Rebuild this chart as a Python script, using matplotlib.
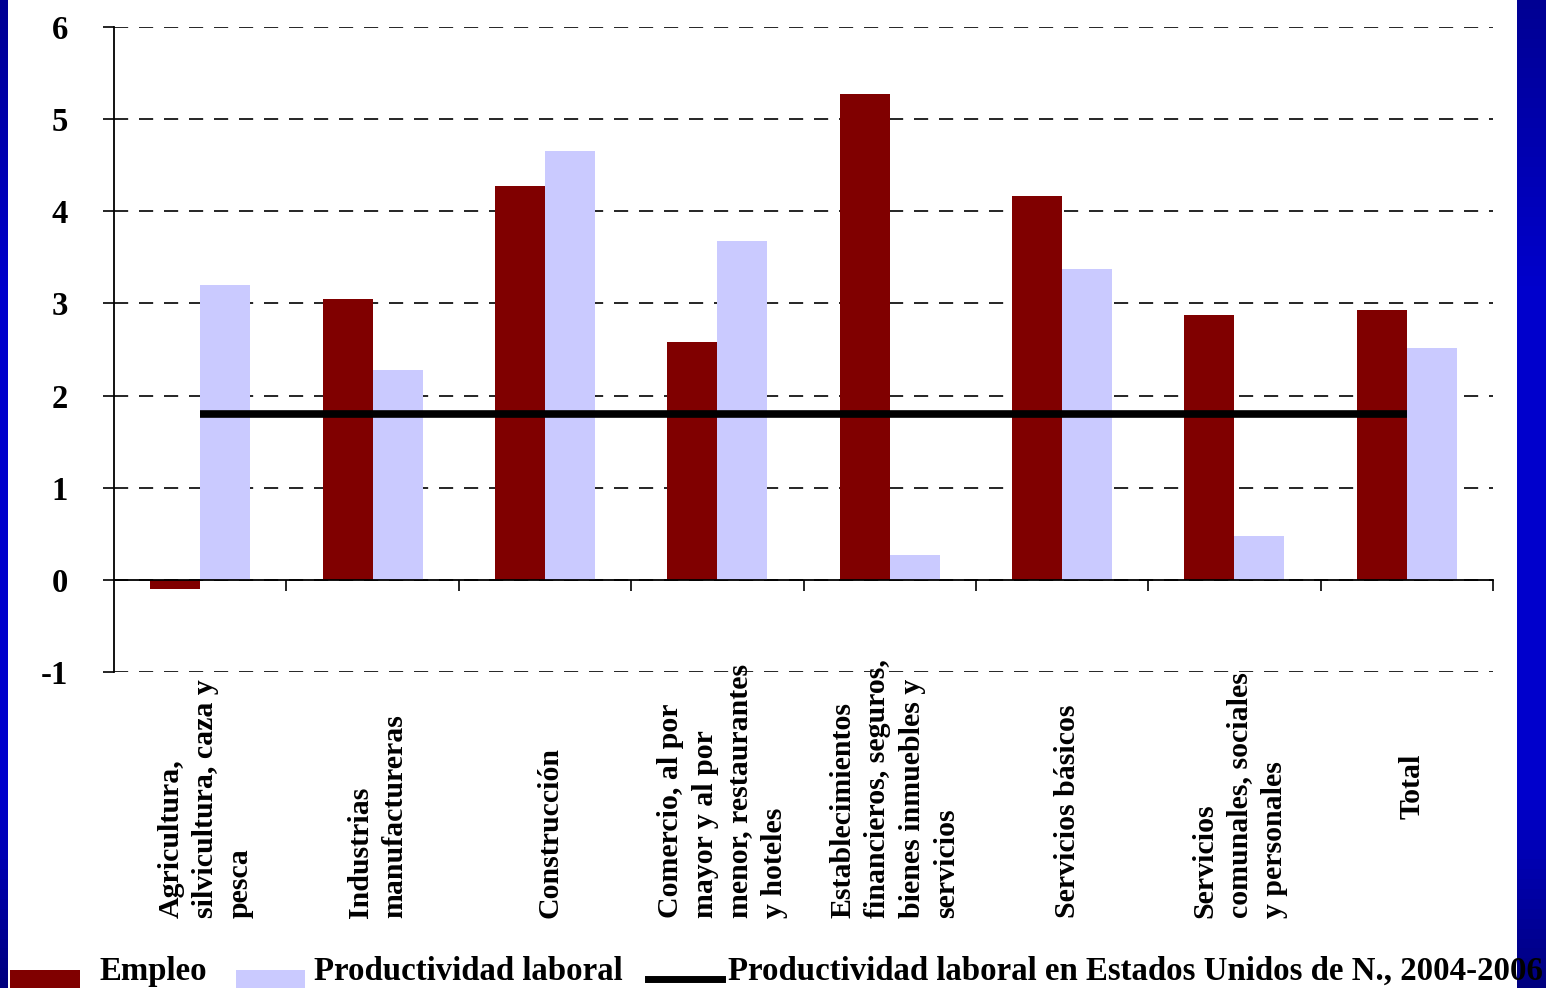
import numpy as np
import matplotlib
matplotlib.use("Agg")
import matplotlib.pyplot as plt
from matplotlib.patches import Rectangle
from matplotlib.lines import Line2D
import matplotlib.transforms as mtransforms

categories = [
    "Agricultura,\nsilvicultura, caza y\npesca",
    "Industrias\nmanufactureras",
    "Construcción",
    "Comercio, al por\nmayor y al por\nmenor, restaurantes\ny hoteles",
    "Establecimientos\nfinancieros, seguros,\nbienes inmuebles y\nservicios",
    "Servicios básicos",
    "Servicios\ncomunales, sociales\ny personales",
    "Total",
]
empleo = [-0.10, 3.05, 4.27, 2.58, 5.27, 4.17, 2.87, 2.93]
productividad = [3.20, 2.28, 4.65, 3.68, 0.27, 3.37, 0.48, 2.52]
us_productividad = 1.80
yticks = [-1, 0, 1, 2, 3, 4, 5, 6]
legend_labels = ["Empleo", "Productividad laboral",
                 "Productividad laboral en Estados Unidos de N., 2004-2006"]

RED = "#800000"
LIGHT = "#CACAFF"
FONT = "Liberation Serif"

W, H = 1546, 988
fig = plt.figure(figsize=(W / 100, H / 100), dpi=100)
fig.patch.set_facecolor("white")

ax = fig.add_axes([114 / W, 1 - 672 / H, (1493 - 114) / W, (672 - 27) / H])
n = len(categories)
centers = np.arange(n) + 0.5
bw = 0.29
ax.bar(centers - bw / 2, empleo, width=bw, color=RED, zorder=2)
ax.bar(centers + bw / 2, productividad, width=bw, color=LIGHT, zorder=2)
ax.plot([centers[0], centers[-1]], [us_productividad, us_productividad],
        color="black", lw=5.5, zorder=4, solid_capstyle="butt")

ax.set_xlim(0, n)
ax.set_ylim(-1, 6)
ax.set_yticks(yticks)
ax.set_yticklabels([str(t) for t in yticks], fontfamily=FONT,
                   fontweight="bold", fontsize=23.5)
ax.tick_params(axis="y", direction="out", length=8, width=1.2, pad=25)
ax.set_xticks(np.arange(1, n + 1))
ax.set_xticklabels([])
ax.tick_params(axis="x", direction="out", length=8, width=1.2)
for s in ["top", "right"]:
    ax.spines[s].set_visible(False)
ax.spines["bottom"].set_position(("data", 0))
ax.spines["bottom"].set_linewidth(1.3)
ax.spines["left"].set_linewidth(1.3)
ax.set_axisbelow(True)
ax.yaxis.grid(True, linestyle=(0, (8.5, 6.5)), color="black", lw=1.2)
ax.xaxis.grid(False)

trans = mtransforms.blended_transform_factory(ax.transData, fig.transFigure)
for i, (c, lab) in enumerate(zip(centers, categories)):
    if i == n - 1:
        ypos, va = 1 - 786 / H, "center"
    else:
        ypos, va = 1 - 918 / H, "bottom"
    ax.text(c + 0.03, ypos, lab, transform=trans, rotation=90,
            ha="center", va=va, multialignment="left",
            fontfamily=FONT, fontweight="bold", fontsize=21.5, linespacing=1.36)

# legend (manual)
fig.patches.append(Rectangle((10 / W, 0), 70 / W, 18 / H, transform=fig.transFigure,
                             facecolor=RED, edgecolor="none"))
fig.patches.append(Rectangle((236 / W, 0), 69 / W, 18 / H, transform=fig.transFigure,
                             facecolor=LIGHT, edgecolor="none"))
fig.lines.append(Line2D([648 / W, 722 / W], [9 / H, 9 / H], transform=fig.transFigure,
                        color="black", lw=5))
for x, lab in zip([99, 314, 728], legend_labels):
    fig.text(x / W, 8 / H, lab, ha="left", va="baseline", fontfamily=FONT,
             fontweight="bold", fontsize=23.7, zorder=20)

# blue gradient borders
grad = np.concatenate([np.linspace(0.58, 0.8, 30), np.full(50, 0.8),
                       np.linspace(0.8, 0.5, 20)])
img = np.zeros((len(grad), 1, 3))
img[:, 0, 2] = grad
for rect in ([0, 0, 8 / W, 1], [1517 / W, 0, (W - 1517) / W, 1]):
    bax = fig.add_axes(rect, zorder=10)
    bax.imshow(img, aspect="auto", extent=[0, 1, 0, 1], origin="upper")
    bax.set_axis_off()

fig.savefig("out.png", dpi=100, facecolor="white")
